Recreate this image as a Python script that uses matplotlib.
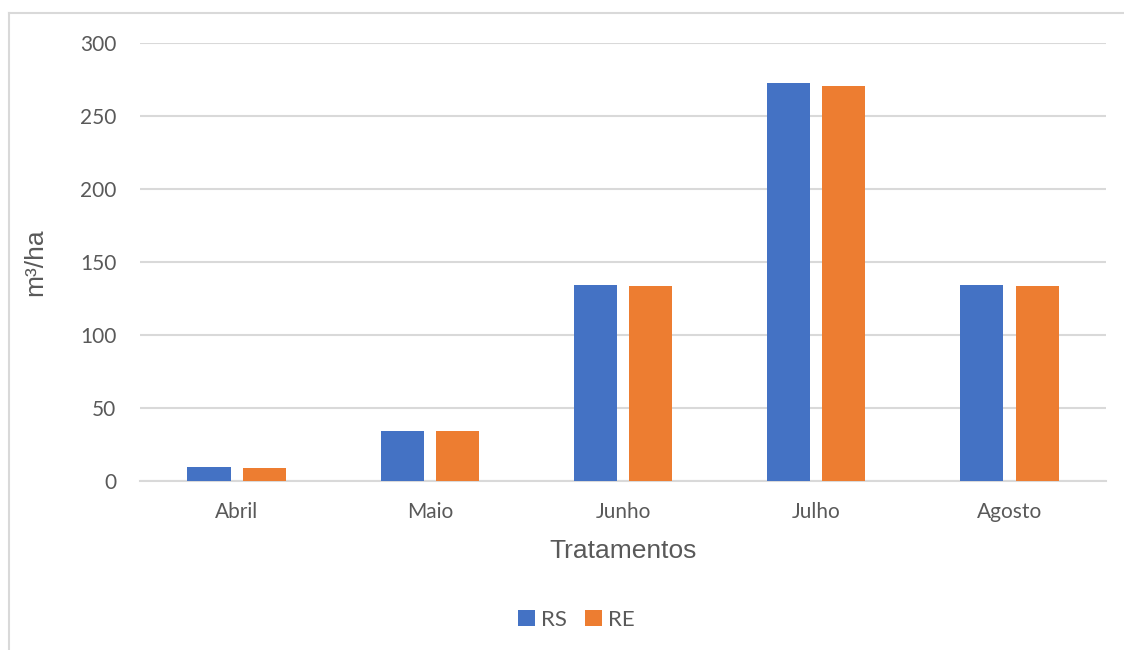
import matplotlib.pyplot as plt
import numpy as np
from matplotlib.lines import Line2D

meses = ['Abril', 'Maio', 'Junho', 'Julho', 'Agosto']
rs = [9.4, 34.5, 134.2, 272.6, 134.2]
re = [9.2, 34.0, 133.5, 270.4, 133.4]

azul = '#4472C4'
laranja = '#ED7D31'
cinza = '#D9D9D9'
texto = '#595959'


def main():
    fig = plt.figure(figsize=(11.24, 6.5), dpi=100)
    ax = fig.add_axes([0.1246, 0.26, 0.8594, 0.6738])

    x = np.arange(len(meses))
    w = 0.223
    off = 0.143
    ax.bar(x - off, rs, width=w, color=azul, label='RS', zorder=3)
    ax.bar(x + off, re, width=w, color=laranja, label='RE', zorder=3)

    ax.set_xlim(-0.5, len(meses) - 0.5)
    ax.set_ylim(0, 300)
    ax.set_yticks(range(0, 301, 50))
    ax.set_xticks(x)
    ax.set_xticklabels(meses)
    ax.yaxis.grid(True, color=cinza, linewidth=1.5, zorder=0)
    for s in ['top', 'right', 'left']:
        ax.spines[s].set_visible(False)
    ax.spines['bottom'].set_color(cinza)
    ax.spines['bottom'].set_linewidth(1.5)
    ax.tick_params(length=0, labelsize=15, labelcolor=texto)
    for lab in ax.get_xticklabels() + ax.get_yticklabels():
        lab.set_family('Lato')
    ax.tick_params(axis='x', pad=15)
    ax.tick_params(axis='y', pad=17)

    ax.set_xlabel('Tratamentos', fontsize=19, color=texto, family='Liberation Sans', labelpad=12)
    ax.set_ylabel('m³/ha', fontsize=19, color=texto, family='Liberation Sans', labelpad=24)

    leg = fig.legend(loc='center', bbox_to_anchor=(0.513, 0.046), ncol=2, frameon=False,
                     prop={'family': 'Lato', 'size': 16}, handlelength=0.75, handleheight=0.75,
                     columnspacing=0.8, handletextpad=0.3)
    for t in leg.get_texts():
        t.set_color(texto)

    # borda do grafico
    fig.add_artist(Line2D([0.008, 0.008], [0, 0.98], color=cinza, linewidth=1.5))
    fig.add_artist(Line2D([0.008, 1], [0.98, 0.98], color=cinza, linewidth=1.5))

    fig.savefig('out.png', dpi=100)


if __name__ == '__main__':
    main()
